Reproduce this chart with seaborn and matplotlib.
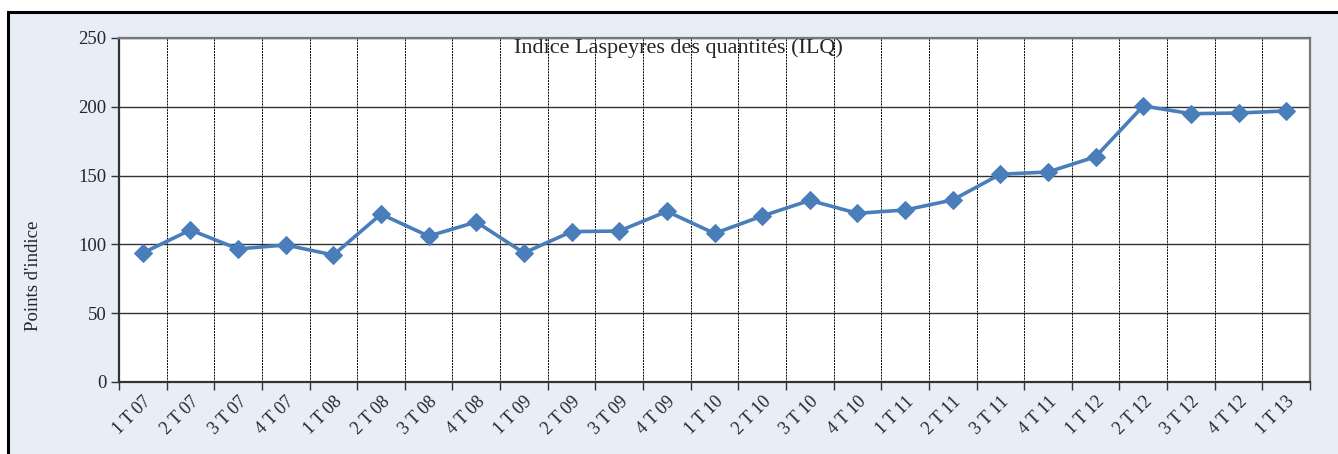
import matplotlib
matplotlib.use("Agg")
import matplotlib.pyplot as plt
import seaborn as sns
import pandas as pd
from matplotlib.patches import Rectangle
from matplotlib.ticker import FixedLocator, NullFormatter

categories = ["1 T 07", "2 T 07", "3 T 07", "4 T 07",
              "1 T 08", "2 T 08", "3 T 08", "4 T 08",
              "1 T 09", "2 T 09", "3 T 09", "4 T 09",
              "1 T 10", "2 T 10", "3 T 10", "4 T 10",
              "1 T 11", "2 T 11", "3 T 11", "4 T 11",
              "1 T 12", "2 T 12", "3 T 12", "4 T 12",
              "1 T 13"]
ilq = [93.8, 110.5, 96.7, 99.6,
       92.3, 122.0, 106.0, 116.3,
       93.8, 109.3, 109.7, 124.0,
       108.0, 120.6, 132.0, 122.6,
       125.0, 132.3, 151.0, 152.6,
       163.7, 200.6, 195.0, 195.5,
       197.0]
yticks = [0, 50, 100, 150, 200, 250]

title = "Indice Laspeyres des quantités (ILQ)"
ylabel = "Points d'indice"

sns.set_theme(style="white")
plt.rcParams["font.family"] = ["Liberation Serif", "DejaVu Serif"]

W, H = 1338, 454
fig = plt.figure(figsize=(W / 100, H / 100), dpi=100)
fig.patch.set_facecolor("white")
bg = Rectangle((8 / W, -0.01), 1.2, 1 - 12 / H + 0.01, transform=fig.transFigure,
               facecolor="#e7eef8", edgecolor="black", linewidth=2.2, zorder=-10)
fig.patches.append(bg)

ax = fig.add_axes([119 / W, 1 - 382 / H, (1310 - 119) / W, (382 - 38) / H])
ax.set_facecolor("white")

df = pd.DataFrame({"Trimestre": categories, "ILQ": ilq})
df["pos"] = range(len(categories))
sns.lineplot(data=df, x="pos", y="ILQ", ax=ax, color="#4a7ebb", linewidth=2.6,
             marker="D", markersize=9.5, markeredgecolor="#4a7ebb", zorder=5)

n = len(categories)
ax.set_xlim(-0.5, n - 0.5)
ax.set_ylim(0, 250)
ax.set_yticks(yticks)
ax.set_yticklabels([str(v) for v in yticks], fontsize=13.5)

ax.set_xticks(list(range(n)))
ax.set_xticklabels(categories, rotation=45, ha="right", rotation_mode="anchor", fontsize=13)
ax.tick_params(axis="x", which="major", length=0, pad=8)
ax.xaxis.set_minor_locator(FixedLocator([i - 0.5 for i in range(n + 1)]))
ax.xaxis.set_minor_formatter(NullFormatter())
ax.tick_params(axis="x", which="minor", length=6, width=1, color="#333333", direction="out", bottom=True)
ax.tick_params(axis="y", which="major", length=6, width=1, color="#333333", direction="out", left=True, pad=3)

ax.grid(False)
for v in yticks[1:]:
    ax.axhline(v, color="#333333", linewidth=1.0, zorder=1)
for i in range(1, n):
    ax.axvline(i - 0.5, color="black", linewidth=0.7, linestyle=(0, (2, 1)), zorder=1)

for side in ["left", "bottom"]:
    ax.spines[side].set_color("#333333")
    ax.spines[side].set_linewidth(1.6)
for side in ["top", "right"]:
    ax.spines[side].set_color("#777777")
    ax.spines[side].set_linewidth(1.6)

ax.set_xlabel("")
ax.set_ylabel("")
fig.text(33 / W, 1 - 276 / H, ylabel, rotation=90, ha="center", va="center", fontsize=13.5)
fig.text(678 / W, 1 - 48 / H, title, ha="center", va="center", fontsize=16, zorder=6)

fig.savefig("out.png", dpi=100)
